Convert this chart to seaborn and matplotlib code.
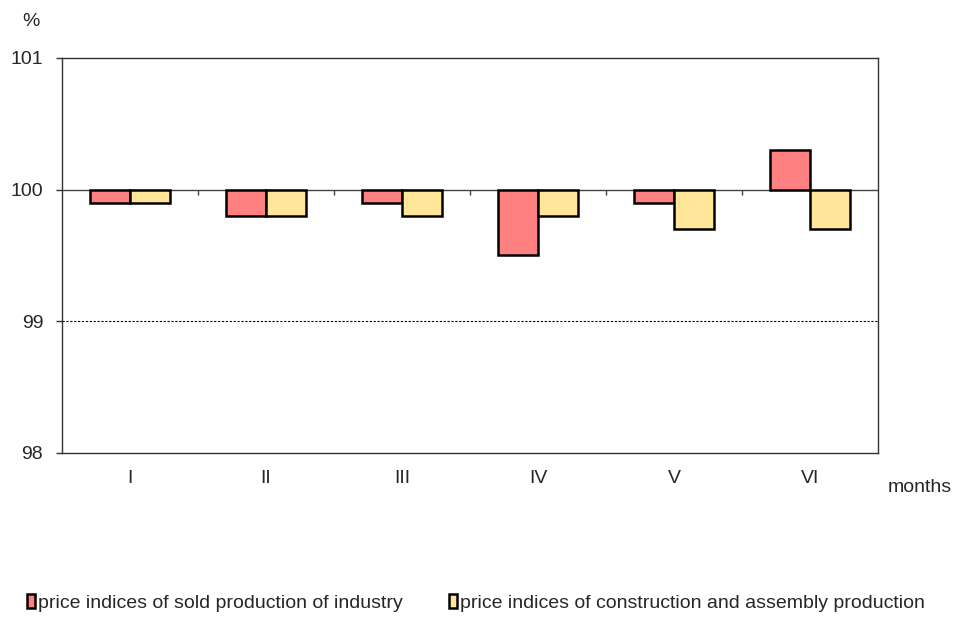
import numpy as np
import pandas as pd
import seaborn as sns
import matplotlib.pyplot as plt
from matplotlib.patches import Patch
from matplotlib.ticker import FuncFormatter

months = ['I', 'II', 'III', 'IV', 'V', 'VI']
industry = [99.9, 99.8, 99.9, 99.5, 99.9, 100.3]
construction = [99.9, 99.8, 99.8, 99.8, 99.7, 99.7]
series_names = ['price indices of sold production of industry',
                'price indices of construction and assembly production']
colors = ['#FF8080', '#FFE699']
base = 100.0


def main() -> None:
    sns.set_theme(style="white")
    plt.rcParams['font.family'] = ['Liberation Sans', 'DejaVu Sans']
    fs = 14

    df = pd.DataFrame({
        'month': months * 2,
        'series': [series_names[0]] * len(months) + [series_names[1]] * len(months),
        'value': industry + construction,
    })
    df['dev'] = df['value'] - base

    fig = plt.figure(figsize=(9.57, 6.19), dpi=100)
    ax = fig.add_axes([62 / 957, 1 - 453 / 619, 816 / 957, 395 / 619])

    sns.barplot(data=df, x='month', y='dev', hue='series', palette=colors,
                width=0.59, edgecolor='black', linewidth=1.8, saturation=1,
                legend=False, ax=ax)

    ax.set_ylim(-2, 1)
    ax.set_xlim(-0.5, len(months) - 0.5)
    ax.set_yticks([-2, -1, 0, 1])
    ax.yaxis.set_major_formatter(FuncFormatter(lambda v, p: f"{v + base:.0f}"))
    ax.axhline(-1, color='black', linestyle=(0, (2, 1.5)), linewidth=0.8, zorder=0)
    ax.axhline(0, color='#444444', linewidth=1.0, zorder=0)
    ax.vlines(np.arange(len(months) - 1) + 0.5, -0.04, 0, color='#444444', linewidth=1.0)

    ax.tick_params(axis='x', length=0, pad=12, labelsize=fs)
    ax.tick_params(axis='y', left=True, length=4.5, width=1.0, color='#333333',
                   direction='out', pad=9, labelsize=fs)
    ax.set_xlabel('')
    ax.set_ylabel('')
    for s in ax.spines.values():
        s.set_color('#333333')
        s.set_linewidth(1.0)

    fig.text(31 / 957, 1 - 21 / 619, '%', fontsize=fs, ha='center', va='center')
    fig.text(920 / 957, 1 - 487 / 619, 'months', fontsize=fs, ha='center', va='center')

    handles = [Patch(facecolor=c, edgecolor='black', linewidth=1.8) for c in colors]
    fig.legend(handles, series_names, loc='center', bbox_to_anchor=(476 / 957, 1 - 603 / 619),
               ncol=2, frameon=False, fontsize=fs, handlelength=0.4, handleheight=0.75,
               handletextpad=0.15, columnspacing=2.4)

    fig.savefig('out.png', dpi=100)
    plt.close(fig)


if __name__ == "__main__":
    main()
